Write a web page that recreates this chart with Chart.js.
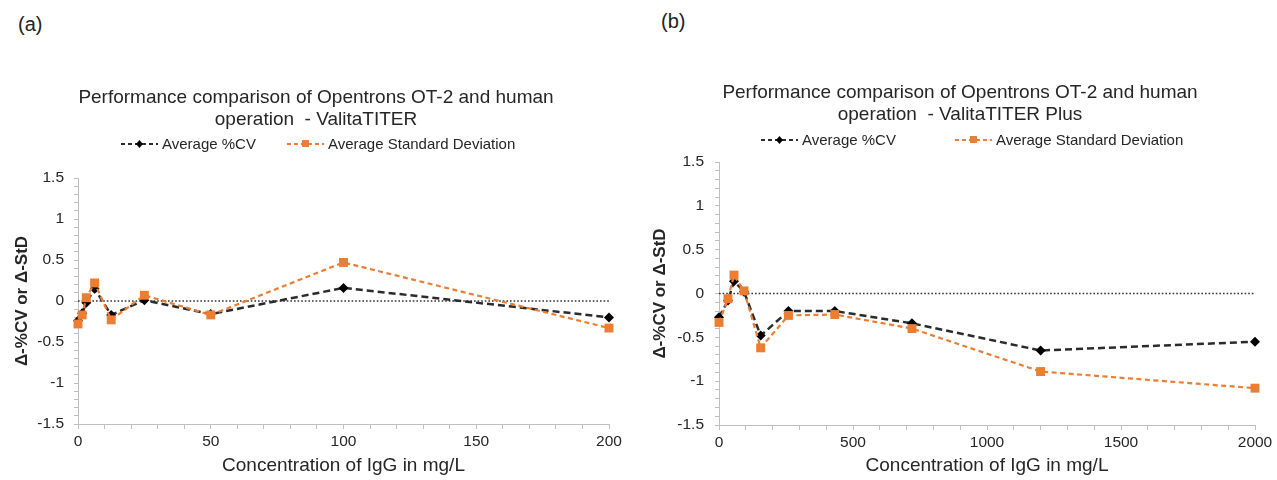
<!DOCTYPE html>
<html>
<head>
<meta charset="utf-8">
<script src="https://cdn.jsdelivr.net/npm/chart.js@4"></script>
<style>
  html, body { margin: 0; padding: 0; background: #fff; }
  body { width: 1277px; height: 480px; position: relative; overflow: hidden; font-family: "Liberation Sans", Arial, Helvetica, sans-serif; }
  .panel { position: absolute; top: 0; }
  .tag { position: absolute; font-size: 20px; line-height: 23px; color: #222; }
</style>
</head>
<body>
<div class="tag" style="left:18px; top:13px">(a)</div>
<div class="tag" style="left:661px; top:10px">(b)</div>
<canvas id="chartA" class="panel" style="left:0" width="640" height="480"></canvas>
<canvas id="chartB" class="panel" style="left:640px" width="637" height="480"></canvas>
<script>
const FONT = '"Liberation Sans", Arial, Helvetica, sans-serif';
const INK = '#262626';
const AXIS = '#bfbfbf';
const ORANGE = '#ED7D31';

// (a) ValitaTITER
const concA = [0, 1.56, 3.125, 6.25, 12.5, 25, 50, 100, 200];
const cvA   = [-0.24, -0.15, -0.02, 0.15, -0.17, 0.01, -0.16, 0.16, -0.20];
const sdA   = [-0.28, -0.17, 0.04, 0.22, -0.23, 0.07, -0.17, 0.47, -0.33];

// (b) ValitaTITER Plus
const concB = [0, 33.6, 56, 93.3, 155.5, 259.2, 432, 720, 1200, 2000];
const cvB   = [-0.27, -0.08, 0.14, 0.02, -0.48, -0.20, -0.20, -0.34, -0.65, -0.55];
const sdB   = [-0.33, -0.06, 0.21, 0.03, -0.62, -0.25, -0.24, -0.40, -0.89, -1.08];

const seriesNames = ['Average %CV', 'Average Standard Deviation'];
const yTicks = [-1.5, -1, -0.5, 0, 0.5, 1, 1.5];
const xTicksA = [0, 50, 100, 150, 200];
const xTicksB = [0, 500, 1000, 1500, 2000];

const pts = (xs, ys) => xs.map((x, i) => ({ x, y: ys[i] }));
const isLabel = (v, list) => list.some(t => Math.abs(t - v) < 1e-6);
const fmt = v => String(Math.round(v * 10) / 10);

// legend drawn as "- -◆- -  label", like the spreadsheet one
const lineLegend = {
    id: 'lineLegend',
    afterDraw(chart, args, opts) {
        const { ctx } = chart;
        ctx.save();
        ctx.font = '15px ' + FONT;
        ctx.textBaseline = 'middle';
        let x = opts.left;
        const y = opts.y;
        chart.data.datasets.forEach(ds => {
            if (!ds.label) return;
            const w = opts.symbol;
            ctx.strokeStyle = ds.borderColor;
            ctx.lineWidth = 1.8;
            ctx.setLineDash(ds.legendDash);
            ctx.beginPath();
            ctx.moveTo(x, y);
            ctx.lineTo(x + w, y);
            ctx.stroke();
            ctx.setLineDash([]);
            ctx.fillStyle = ds.pointBackgroundColor;
            const cx = x + w / 2;
            ctx.beginPath();
            if (ds.pointStyle === 'rectRot') {
                ctx.moveTo(cx, y - 4); ctx.lineTo(cx + 3.5, y); ctx.lineTo(cx, y + 4); ctx.lineTo(cx - 3.5, y);
            } else {
                ctx.rect(cx - 3.5, y - 4, 7, 7);
            }
            ctx.closePath();
            ctx.fill();
            ctx.fillStyle = INK;
            ctx.fillText(ds.label, x + w + 4, y + 1);
            x += w + 4 + ctx.measureText(ds.label).width + opts.spacing;
        });
        ctx.restore();
    }
};

function makeChart(id, conc, cv, sd, xTicks, cfg) {
    const xMin = xTicks[0], xMax = xTicks[xTicks.length - 1];
    return new Chart(document.getElementById(id), {
        type: 'line',
        data: {
            datasets: [
                {
                    label: seriesNames[0], data: pts(conc, cv),
                    borderColor: '#2b2b2b', borderWidth: 2.5, borderDash: [7, 4], legendDash: [4, 3],
                    pointStyle: 'rectRot', pointRadius: 5, pointBackgroundColor: '#000', pointBorderWidth: 0,
                    tension: 0, order: 2, clip: false
                },
                {
                    label: seriesNames[1], data: pts(conc, sd),
                    borderColor: ORANGE, borderWidth: 2.2, borderDash: [5, 3.5], legendDash: [4, 3],
                    pointStyle: 'rect', pointRadius: 6.3, pointBackgroundColor: ORANGE, pointBorderWidth: 0,
                    tension: 0, order: 1, clip: false
                },
                {
                    // zero reference line
                    data: [{ x: xMin, y: 0 }, { x: xMax, y: 0 }],
                    borderColor: '#333', borderWidth: 1.6, borderDash: [1.6, 2],
                    pointRadius: 0, order: 3
                }
            ]
        },
        options: {
            responsive: false,
            animation: false,
            layout: { padding: { left: cfg.padLeft, right: cfg.padRight, top: 0, bottom: 0 } },
            plugins: {
                legend: { display: false },
                tooltip: { enabled: false },
                title: {
                    display: true, text: cfg.title, color: INK,
                    font: { family: FONT, size: 19, weight: 'normal', lineHeight: 1.15 },
                    padding: { top: cfg.titleTop, bottom: cfg.titleBottom }
                },
                lineLegend: cfg.legend
            },
            scales: {
                x: {
                    type: 'linear', min: xMin, max: xMax,
                    afterFit: s => { s.height = cfg.xHeight; },
                    ticks: {
                        stepSize: (xTicks[1] - xTicks[0]) / 5, autoSkip: false, maxRotation: 0,
                        padding: 3, color: INK, font: { family: FONT, size: 15.5 },
                        callback: v => isLabel(v, xTicks) ? String(v) : ''
                    },
                    grid: { drawOnChartArea: false, tickLength: 5, color: AXIS },
                    border: { color: AXIS },
                    title: {
                        display: true, text: 'Concentration of IgG in mg/L', color: INK,
                        font: { family: FONT, size: 19 }, padding: { top: 0, bottom: 2.6 }
                    }
                },
                y: {
                    min: -1.5, max: 1.5,
                    afterFit: s => { s.width = cfg.yWidth; },
                    ticks: {
                        stepSize: 0.1, autoSkip: false, padding: cfg.yPad, color: INK,
                        font: { family: FONT, size: 15.5 },
                        callback: v => isLabel(v, yTicks) ? fmt(v) : ''
                    },
                    grid: { drawOnChartArea: false, tickLength: 4, color: AXIS },
                    border: { color: AXIS },
                    title: {
                        display: true, text: 'Δ-%CV or Δ-StD', color: INK,
                        font: { family: FONT, size: 17, weight: 'bold' },
                        padding: { top: cfg.yTitlePad, bottom: 0 }
                    }
                }
            }
        },
        plugins: [lineLegend]
    });
}

makeChart('chartA', concA, cvA, sdA, xTicksA, {
    title: ['Performance comparison of Opentrons OT-2 and human', 'operation  - ValitaTITER'],
    titleTop: 87.1, titleBottom: 47.2, padLeft: 23, padRight: 31, xHeight: 56, yWidth: 55, yPad: 10, yTitlePad: -11.2,
    legend: { y: 144, left: 121, symbol: 37, spacing: 31 }
});

makeChart('chartB', concB, cvB, sdB, xTicksB, {
    title: ['Performance comparison of Opentrons OT-2 and human', 'operation  - ValitaTITER Plus'],
    titleTop: 82.1, titleBottom: 36.2, padLeft: 25, padRight: 22, xHeight: 55, yWidth: 54, yPad: 11, yTitlePad: -15.2,
    legend: { y: 140, left: 121, symbol: 37, spacing: 59 }
});
</script>
</body>
</html>
